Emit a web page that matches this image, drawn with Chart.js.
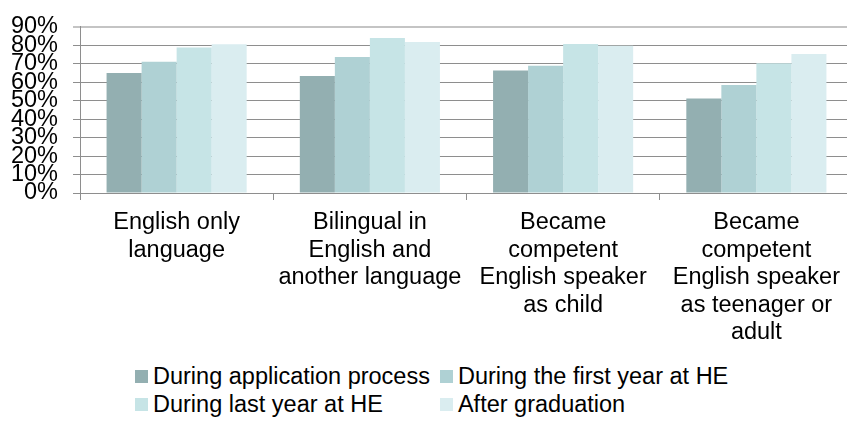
<!DOCTYPE html>
<html>
<head>
<meta charset="utf-8">
<script src="https://cdn.jsdelivr.net/npm/chart.js@4/dist/chart.umd.min.js"></script>
<style>
  body { margin: 0; overflow: hidden; background: #fff; font-family: "Liberation Sans", Arial, sans-serif; }
  #wrap { position: relative; width: 853px; height: 345px; }
  #legend {
    position: absolute; left: 135px; top: 362px;
    display: grid; grid-template-columns: auto auto; column-gap: 10px;
    font-size: 23.5px; line-height: 28px; color: #000;
  }
  #legend .item { display: flex; align-items: center; white-space: nowrap; }
  #legend .box { width: 13px; height: 13px; margin-right: 5px; flex: none; }
</style>
</head>
<body>
<div id="wrap"><canvas id="chart" width="853" height="345"></canvas></div>
<div id="legend"></div>
<script>
// categories (x axis), one array per series, y tick values
var groups = [
  ['English only', 'language'],
  ['Bilingual in', 'English and', 'another language'],
  ['Became', 'competent', 'English speaker', 'as child'],
  ['Became', 'competent', 'English speaker', 'as teenager or', 'adult']
];
var seriesNames = ['During application process', 'During the first year at HE', 'During last year at HE', 'After graduation'];
var applicationProcess = [65, 63.4, 66.3, 51.1];
var firstYear = [71, 73.6, 68.9, 58.5];
var lastYear = [78.7, 83.9, 80.7, 70.3];
var afterGraduation = [80.5, 81.7, 79.7, 75.3];
var yTicks = [0, 10, 20, 30, 40, 50, 60, 70, 80, 90];

var seriesColors = ['#93afb1', '#afd1d4', '#c6e4e6', '#daedf0'];
var seriesValues = [applicationProcess, firstYear, lastYear, afterGraduation];
var gridGray = '#8e8e8e';
var labelFont = '"Liberation Sans", Arial, sans-serif';

var chart = new Chart(document.getElementById('chart').getContext('2d'), {
  type: 'bar',
  data: {
    labels: groups,
    datasets: seriesNames.map(function(name, i) {
      return {
        label: name,
        data: seriesValues[i],
        backgroundColor: seriesColors[i],
        borderWidth: 0,
        categoryPercentage: 0.725,
        barPercentage: 1.0
      };
    })
  },
  options: {
    responsive: false,
    devicePixelRatio: 1,
    animation: false,
    layout: { padding: { top: 19, right: 0, bottom: 0, left: 0 } },
    plugins: { legend: { display: false }, tooltip: { enabled: false } },
    scales: {
      x: {
        grid: { offset: true, drawOnChartArea: false, drawTicks: true, tickLength: 7, color: gridGray },
        border: { display: true, color: gridGray },
        ticks: {
          color: '#000',
          padding: 9,
          maxRotation: 0,
          autoSkip: false,
          font: { family: labelFont, size: 23.5, lineHeight: 1.17 }
        },
        afterFit: function(scale) { scale.height = 152; }
      },
      y: {
        min: 0,
        max: 90,
        afterBuildTicks: function(scale) {
          scale.ticks = yTicks.map(function(v) { return { value: v }; });
        },
        grid: {
          tickLength: 7,
          color: function(ctx) { return ctx.tick && ctx.tick.value === 90 ? '#c4c4c4' : gridGray; },
          lineWidth: function(ctx) { return ctx.tick && ctx.tick.value === 90 ? 2 : 1; }
        },
        border: { display: true, color: gridGray },
        ticks: {
          color: '#000',
          padding: 15,
          autoSkip: false,
          font: { family: labelFont, size: 23.5, lineHeight: 1 },
          callback: function(v) { return v + '%'; }
        },
        afterFit: function(scale) { scale.width = 80; }
      }
    }
  }
});

// legend laid out in two aligned columns
var legendEl = document.getElementById('legend');
chart.data.datasets.forEach(function(ds) {
  var item = document.createElement('div');
  item.className = 'item';
  var box = document.createElement('span');
  box.className = 'box';
  box.style.background = ds.backgroundColor;
  var txt = document.createElement('span');
  txt.textContent = ds.label;
  item.appendChild(box);
  item.appendChild(txt);
  legendEl.appendChild(item);
});
</script>
</body>
</html>
